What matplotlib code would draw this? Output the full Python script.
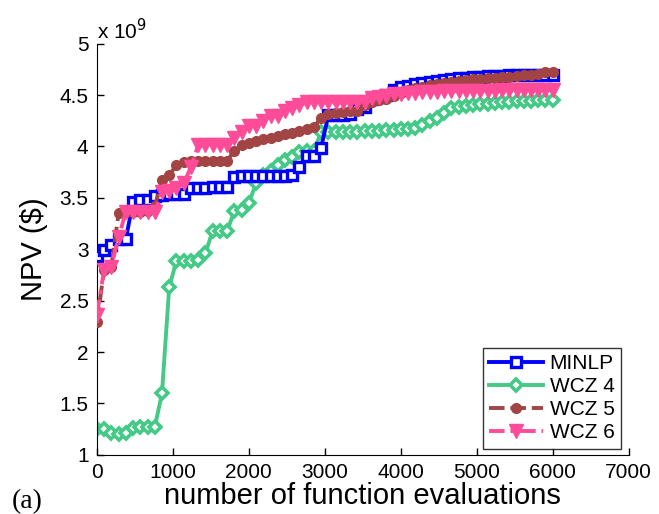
import numpy as np
import matplotlib
matplotlib.use("Agg")
import matplotlib.pyplot as plt

# function evaluation counts (shared by all runs)
evals = [0, 95, 190, 286, 381, 476, 571, 667, 762, 857, 952, 1048, 1143, 1238, 1333, 1429,
         1524, 1619, 1714, 1810, 1905, 2000, 2095, 2190, 2286, 2381, 2476, 2571, 2667, 2762,
         2857, 2952, 3048, 3143, 3238, 3333, 3429, 3524, 3619, 3714, 3810, 3905, 4000, 4095,
         4190, 4286, 4381, 4476, 4571, 4667, 4762, 4857, 4952, 5048, 5143, 5238, 5333, 5429,
         5524, 5619, 5714, 5810, 5905, 6000]

# NPV values, units of 1e9 $
minlp = [2.93, 2.99, 3.04, 3.10, 3.10, 3.46, 3.48, 3.48, 3.52, 3.53, 3.54, 3.54, 3.54, 3.60,
         3.60, 3.60, 3.61, 3.61, 3.61, 3.70, 3.71, 3.71, 3.71, 3.71, 3.71, 3.71, 3.71, 3.72,
         3.80, 3.91, 3.91, 3.99, 4.31, 4.31, 4.31, 4.32, 4.36, 4.38, 4.46, 4.48, 4.50, 4.55,
         4.58, 4.59, 4.61, 4.62, 4.63, 4.64, 4.65, 4.66, 4.67, 4.67, 4.68, 4.68, 4.69, 4.69,
         4.69, 4.70, 4.70, 4.70, 4.70, 4.70, 4.70, 4.70]
wcz4 = [1.25, 1.25, 1.21, 1.20, 1.21, 1.26, 1.27, 1.27, 1.27, 1.60, 2.63, 2.89, 2.89, 2.89,
        2.90, 2.96, 3.18, 3.18, 3.18, 3.37, 3.38, 3.45, 3.64, 3.72, 3.76, 3.82, 3.87, 3.90,
        3.95, 3.96, 3.96, 4.14, 4.14, 4.14, 4.14, 4.14, 4.14, 4.15, 4.15, 4.15, 4.16, 4.16,
        4.17, 4.17, 4.18, 4.21, 4.25, 4.28, 4.33, 4.37, 4.38, 4.39, 4.40, 4.41, 4.41, 4.42,
        4.43, 4.43, 4.44, 4.44, 4.44, 4.45, 4.45, 4.45]
wcz5 = [2.29, 2.80, 2.83, 3.35, 3.36, 3.36, 3.36, 3.37, 3.42, 3.67, 3.72, 3.82, 3.85, 3.86,
        3.86, 3.86, 3.86, 3.86, 3.86, 3.96, 4.01, 4.03, 4.05, 4.07, 4.08, 4.10, 4.12, 4.13,
        4.15, 4.17, 4.19, 4.28, 4.32, 4.33, 4.34, 4.35, 4.35, 4.40, 4.43, 4.45, 4.46, 4.49,
        4.52, 4.55, 4.57, 4.58, 4.60, 4.61, 4.62, 4.63, 4.64, 4.65, 4.66, 4.66, 4.67, 4.67,
        4.68, 4.68, 4.69, 4.70, 4.70, 4.71, 4.72, 4.72]
wcz6 = [2.36, 2.80, 2.83, 3.12, 3.36, 3.36, 3.36, 3.36, 3.36, 3.56, 3.57, 3.60, 3.64, 3.80,
        4.01, 4.01, 4.01, 4.01, 4.01, 4.08, 4.14, 4.20, 4.20, 4.25, 4.30, 4.30, 4.35, 4.37,
        4.40, 4.43, 4.43, 4.43, 4.43, 4.43, 4.43, 4.43, 4.43, 4.43, 4.47, 4.48, 4.49, 4.51,
        4.51, 4.52, 4.52, 4.53, 4.53, 4.53, 4.54, 4.54, 4.54, 4.54, 4.54, 4.54, 4.54, 4.54,
        4.55, 4.55, 4.55, 4.55, 4.55, 4.55, 4.55, 4.55]

plt.rcParams["font.family"] = ["Liberation Sans", "DejaVu Sans"]

fig = plt.figure(figsize=(6.59, 5.14), dpi=100)
ax = fig.add_axes([0.147, 0.115, 0.807, 0.800])

ax.plot(evals, minlp, color="#0000ff", lw=2.8, marker="s", ms=7.5, mfc="white",
        mec="#0000ff", mew=2.4, label="MINLP", zorder=3)
ax.plot(evals, wcz4, color="#45c987", lw=2.8, marker="D", ms=6, mfc="white",
        mec="#45c987", mew=2.6, label="WCZ 4", zorder=2)
ax.plot(evals, wcz5, color="#a34444", lw=2.8, ls=(0, (4, 1.5)), marker="o", ms=7,
        mfc="#a34444", mec="#a34444", label="WCZ 5", zorder=4)
ax.plot(evals, wcz6, color="#ff4c99", lw=2.8, ls=(0, (4, 1.5, 1, 1.5)), marker="v", ms=10,
        mfc="#ff4c99", mec="#ff4c99", label="WCZ 6", zorder=5)

ax.set_xlim(0, 7000)
ax.set_ylim(1, 5)
ax.set_xticks(range(0, 7001, 1000))
ax.set_yticks([1, 1.5, 2, 2.5, 3, 3.5, 4, 4.5, 5])
ax.set_yticklabels(["1", "1.5", "2", "2.5", "3", "3.5", "4", "4.5", "5"])
ax.tick_params(direction="in", labelsize=15, length=5, width=1, pad=6)
ax.spines["top"].set_visible(False)
ax.spines["right"].set_visible(False)

ax.set_xlabel("number of function evaluations", fontsize=21, labelpad=0)
ax.set_ylabel("NPV ($)", fontsize=21, labelpad=8)
ax.text(0.0, 1.0, "x 10$^{9}$", transform=ax.transAxes, fontsize=15,
        ha="left", va="bottom")
fig.text(0.018, 0.012, "(a)", fontsize=20, family="Liberation Serif")

leg = ax.legend(loc="lower right", bbox_to_anchor=(0.985, 0.015), fontsize=15,
                frameon=True, fancybox=False, edgecolor="black", handlelength=2.6,
                borderpad=0.3, labelspacing=0.2, handletextpad=0.3, borderaxespad=0)
leg.get_frame().set_linewidth(1)

fig.savefig("out.png", dpi=100)
